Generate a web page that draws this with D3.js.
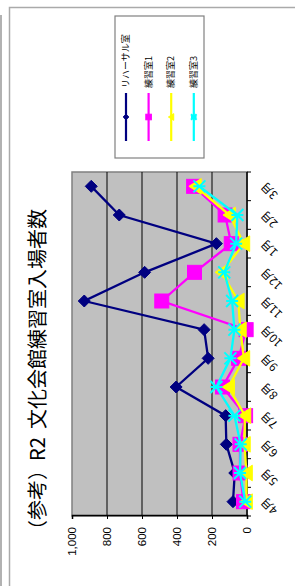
<!DOCTYPE html>
<html lang="ja">
<head>
<meta charset="UTF-8">
<title>R2 文化会館練習室入場者数</title>
<script src="https://cdn.jsdelivr.net/npm/d3@7"></script>
<style>
  body { margin: 0; background: #fff; }
  svg { display: block; }
  .jp { font-family: "Noto Sans CJK JP", "Noto Sans", sans-serif; }
  .num { font-family: "Liberation Sans", Arial, sans-serif; }
</style>
</head>
<body>
<div id="chart"></div>
<script>
// data (people per month)
const months = ["4月", "5月", "6月", "7月", "8月", "9月", "10月", "11月", "12月", "1月", "2月", "3月"];
const rehearsal = [80, 70, 118, 122, 405, 222, 245, 930, 585, 175, 730, 890];
const room1 = [20, 40, 40, 8, 140, 48, 5, 487, 300, 90, 125, 305];
const room2 = [3, 3, 15, 12, 105, 18, 38, 50, 145, 18, 100, 295];
const room3 = [10, 40, 36, 72, 175, 95, 72, 85, 130, 62, 55, 272];
const seriesNames = ["リハーサル室", "練習室1", "練習室2", "練習室3"];
const seriesColors = ["#000080", "#ff00ff", "#ffff00", "#00ffff"];
const yTicks = [0, 200, 400, 600, 800, 1000];

const series = [rehearsal, room1, room2, room3].map((vals, i) => ({
    name: seriesNames[i], color: seriesColors[i], shape: i, values: vals
}));

const svg = d3.select("#chart").append("svg")
    .attr("width", 295).attr("height", 586);

// outer frames (screen coords)
svg.append("line").attr("x1", 1).attr("y1", 15).attr("x2", 1).attr("y2", 586)
    .attr("stroke", "#999").attr("stroke-width", 1.5);
svg.append("path").attr("d", "M9.5,586 V7.5 H295")
    .attr("fill", "none").attr("stroke", "#aaa").attr("stroke-width", 1.5);

// the chart itself is drawn lying on its side
const g = svg.append("g").attr("transform", "translate(0,586) rotate(-90)");

const x = d3.scaleBand().domain(months).range([70, 414]);
const y = d3.scaleLinear().domain([0, 1000]).range([247, 72]);

// plot area
g.append("rect")
    .attr("x", 70).attr("y", 72).attr("width", 344).attr("height", 175)
    .attr("fill", "#c0c0c0").attr("stroke", "#808080").attr("stroke-width", 1.5);

// gridlines
g.selectAll(".grid").data(yTicks.filter(d => d > 0 && d < 1000)).join("line")
    .attr("x1", 70).attr("x2", 414)
    .attr("y1", d => y(d)).attr("y2", d => y(d))
    .attr("stroke", "#000").attr("stroke-width", 1);

// value axis
const yAxis = g.append("g").attr("transform", "translate(70,0)")
    .call(d3.axisLeft(y).tickValues(yTicks).tickSize(3).tickFormat(d3.format(",")));
yAxis.select(".domain").attr("stroke", "#000").attr("stroke-width", 1.5);
yAxis.selectAll("text").attr("class", "num").attr("font-size", 11.5)
    .attr("fill", "#000").attr("x", -11);

// category axis
const xAxis = g.append("g").attr("transform", "translate(0,247)");
xAxis.append("line").attr("x1", 70).attr("x2", 414)
    .attr("stroke", "#000").attr("stroke-width", 1.5);
xAxis.selectAll(".tk").data(d3.range(months.length + 1)).join("line")
    .attr("x1", i => 70 + i * x.step()).attr("x2", i => 70 + i * x.step())
    .attr("y1", 0).attr("y2", 4).attr("stroke", "#000");
xAxis.selectAll(".lbl").data(months).join("text")
    .attr("class", "jp")
    .attr("font-size", 11.5)
    .attr("text-anchor", "end")
    .attr("transform", d => `translate(${x(d) + x.bandwidth() / 2 + 2},${16}) rotate(-45)`)
    .attr("dy", "0.35em")
    .text(d => d);

// markers
function marker(sel, shape, s) {
    if (shape === 0) {
        sel.append("path").attr("d", `M0,${-s}L${s},0L0,${s}L${-s},0Z`);
    } else if (shape === 1) {
        sel.append("rect").attr("x", -s).attr("y", -s).attr("width", 2 * s).attr("height", 2 * s);
    } else if (shape === 2) {
        sel.append("path").attr("d", `M0,${-s}L${s * 1.2},${s * 0.9}L${-s * 1.2},${s * 0.9}Z`);
    } else {
        sel.append("path")
            .attr("d", `M${-s},${-s}L${s},${s}M${-s},${s}L${s},${-s}M0,${-s}V${s}`)
            .attr("fill", "none").attr("stroke-width", 2);
    }
}
const markerSize = [6, 7, 6.5, 6];

const line = d3.line()
    .x((d, i) => x(months[i]) + x.bandwidth() / 2)
    .y(d => y(d));

series.forEach(s => {
    const sg = g.append("g");
    sg.append("path").datum(s.values)
        .attr("d", line).attr("fill", "none")
        .attr("stroke", s.color).attr("stroke-width", 2.3);
    s.values.forEach((v, i) => {
        const m = sg.append("g")
            .attr("transform", `translate(${x(months[i]) + x.bandwidth() / 2},${y(v)})`)
            .attr("fill", s.color).attr("stroke", s.color);
        marker(m, s.shape, markerSize[s.shape]);
    });
});

// title
const title = g.append("text").attr("class", "jp")
    .attr("y", 45)
    .attr("font-size", 20)
    .attr("fill", "#000");
title.append("tspan").attr("x", 46).text("（参考）");
title.append("tspan").attr("x", 125).text("R2");
title.append("tspan").attr("x", 157).text("文化会館練習室入場者数");

// legend
const lg = g.append("g");
lg.append("rect").attr("x", 428).attr("y", 115).attr("width", 142).attr("height", 89)
    .attr("fill", "#fff").attr("stroke", "#808080").attr("stroke-width", 1.2);
series.forEach((s, i) => {
    const ly = 126 + i * 22.6;
    lg.append("line").attr("x1", 445).attr("x2", 493).attr("y1", ly).attr("y2", ly)
        .attr("stroke", s.color).attr("stroke-width", 2.2);
    const m = lg.append("g").attr("transform", `translate(469,${ly})`)
        .attr("fill", s.color).attr("stroke", s.color);
    marker(m, s.shape, 2.8);
    lg.append("text").attr("class", "jp")
        .attr("x", 498).attr("y", ly).attr("dy", "0.35em")
        .attr("font-size", 9).attr("fill", "#000")
        .text(s.name);
});
</script>
</body>
</html>
